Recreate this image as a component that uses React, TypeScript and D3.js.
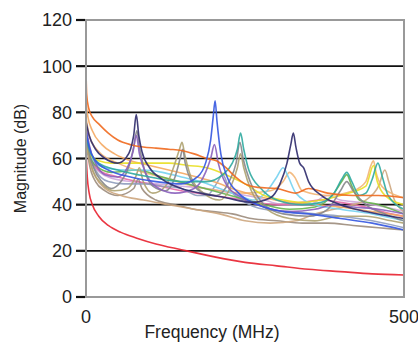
import React from 'react';
import * as d3 from 'd3';

type Pt = [number, number];

const yTicks = [0, 20, 40, 60, 80, 100, 120];
const xTicks = [0, 500];

// frequency (MHz), magnitude (dB)
const redSeries: Pt[] = [[0,63],[2,52],[5,45],[10,40],[20,35],[35,31],[55,28],[80,25.5],[110,23],[150,20.5],[200,17.5],[250,15],[300,13.5],[350,12],[400,11],[450,10],[500,9.5]];
const orangeSeries: Pt[] = [[0,98],[1,88],[4,82],[10,78],[20,75],[35,71],[50,68],[70,66],[90,65],[110,64.5],[130,64],[150,63.5],[170,62],[190,60],[205,59],[220,56],[235,52],[250,49],[270,47.5],[300,47],[330,45],[350,47],[380,45],[420,44],[460,44],[500,43]];
const peachSeries: Pt[] = [[0,84],[3,78],[10,72],[25,66],[45,62],[70,59],[100,57],[130,55],[160,53],[200,50],[240,46],[280,43],[320,41],[360,40],[400,39],[450,37],[500,35]];
const navySeries: Pt[] = [[0,76],[5,70],[15,64],[30,60],[50,58],[62,60],[70,64],[75,70],[79,79],[83,70],[88,63],[100,56],[120,51],[150,47],[180,45],[220,43],[260,41],[290,43],[305,49],[316,58],[322,66],[326,71],[330,65],[336,58],[342,56],[350,50],[370,44],[400,40],[440,37],[500,34]];
const blueSeries: Pt[] = [[0,72],[5,65],[15,59],[35,55],[70,52],[110,50],[150,49],[175,52],[188,58],[196,68],[200,78],[203,85],[206,76],[212,62],[222,52],[240,45],[270,40],[310,37],[350,36],[400,34],[450,32],[500,29]];
const tealSeries: Pt[] = [[0,70],[5,64],[20,58],[50,55],[100,52],[150,50],[190,50],[215,53],[230,58],[238,64],[243,71],[248,64],[256,55],[275,47],[300,42],[340,40],[370,41],[390,45],[402,51],[410,54],[418,50],[430,44],[440,45],[450,51],[459,58],[466,52],[475,44],[500,38]];
const graySeries: Pt[] = [[0,72],[4,64],[12,56],[25,50],[40,47],[55,50],[68,57],[75,65],[80,72],[84,65],[92,55],[105,48],[125,46],[140,52],[148,60],[152,64],[156,58],[166,50],[185,45],[205,44],[225,50],[236,58],[242,67],[247,60],[258,50],[280,40],[310,36],[350,35],[380,38],[400,46],[410,50],[420,46],[440,40],[470,36],[500,33]];
const oliveSeries: Pt[] = [[0,70],[4,62],[12,54],[25,49],[45,46],[65,47],[78,52],[84,56],[90,50],[105,45],[125,48],[140,58],[147,64],[151,67],[155,62],[165,52],[185,45],[210,42],[228,48],[238,56],[243,62],[248,56],[260,46],[285,38],[320,34],[360,33],[400,35],[440,35],[480,33],[500,32]];
const yellowSeries: Pt[] = [[0,68],[5,62],[20,59],[40,58],[70,58],[100,58],[130,58],[160,57],[190,56],[220,53],[250,49],[280,44],[310,42],[340,41],[370,42],[400,44],[440,48],[452,57],[458,50],[470,44],[500,40]];
const cyanSeries: Pt[] = [[0,72],[5,64],[15,58],[30,56],[60,55],[90,55],[120,54],[150,52],[180,50],[210,47],[240,44],[265,42],[285,46],[300,52],[310,56],[318,52],[330,45],[360,40],[400,38],[450,36],[500,33]];
const purpleSeries: Pt[] = [[0,74],[5,66],[15,58],[30,53],[50,52],[65,56],[74,63],[79,70],[84,62],[95,53],[115,47],[140,45],[170,47],[188,54],[196,60],[202,66],[208,58],[220,49],[245,43],[280,39],[320,37],[360,38],[390,40],[420,39],[460,38],[500,36]];
const lavenderSeries: Pt[] = [[0,73],[5,64],[15,56],[35,52],[70,50],[110,49],[150,48],[190,47],[230,45],[270,43],[310,40],[350,40],[380,44],[400,42],[430,41],[470,39],[500,37]];
const tanSeries: Pt[] = [[0,70],[5,60],[15,52],[30,47],[55,44],[90,42],[130,40],[170,38],[210,36],[250,33],[290,32],[330,33],[360,36],[390,38],[420,40],[440,42],[460,48],[470,55],[476,50],[485,42],[500,37]];
const greenSeries: Pt[] = [[0,71],[5,63],[15,57],[40,54],[80,55],[120,52],[160,49],[200,46],[240,43],[280,40],[320,38],[360,39],[390,45],[402,50],[410,53],[418,48],[430,42],[460,40],[500,36]];
const pinkSeries: Pt[] = [[0,70],[5,62],[20,55],[50,52],[100,49],[150,46],[200,44],[250,42],[300,40],[340,41],[370,42],[400,41],[440,39],[480,36],[500,35]];
const lightOrangeSeries: Pt[] = [[0,78],[5,70],[20,63],[50,58],[90,54],[130,51],[170,48],[210,46],[250,45],[290,46],[310,50],[320,54],[328,52],[340,46],[380,44],[420,46],[440,50],[448,57],[452,59],[456,54],[465,48],[480,45],[500,43]];
const brownSeries: Pt[] = [[0,68],[5,58],[15,50],[30,46],[50,44],[75,47],[82,51],[88,47],[110,42],[140,40],[170,38],[200,37],[230,36],[260,34],[300,33],[340,32],[380,32],[420,31],[460,30],[500,29]];
const slateSeries: Pt[] = [[0,70],[5,62],[15,55],[35,50],[60,49],[90,49],[120,48],[150,47],[175,44],[190,44],[205,49],[215,53],[225,47],[245,42],[280,38],[320,37],[360,36],[400,35],[450,33],[500,30]];

const seriesList: Pt[][] = [
  lavenderSeries, pinkSeries, brownSeries, tanSeries, slateSeries, lightOrangeSeries,
  peachSeries, greenSeries, cyanSeries, yellowSeries, oliveSeries, graySeries,
  purpleSeries, tealSeries, orangeSeries, blueSeries, navySeries, redSeries,
];
const seriesColors = [
  '#cfa6dc', '#e46aa6', '#9c8c7c', '#cda67e', '#8e9cbc', '#f2b576',
  '#f4a862', '#66b24c', '#74d2f0', '#e8df22', '#aea270', '#86868a',
  '#8a60bc', '#2faaa0', '#f0691e', '#3457e0', '#2e2a6c', '#e8202e',
];

export default function App() {
  const width = 418;
  const height = 345;
  const margin = { top: 20, right: 14, bottom: 48, left: 86 };
  const x = d3.scaleLinear().domain([0, 500]).range([margin.left, width - margin.right]);
  const y = d3.scaleLinear().domain([0, 120]).range([height - margin.bottom, margin.top]);
  const line = d3.line<Pt>()
    .x(d => x(d[0]))
    .y(d => y(d[1]))
    .curve(d3.curveMonotoneX);
  const font = 'Arial, "Liberation Sans", sans-serif';

  return (
    <svg width={width} height={height} style={{ position: 'absolute', left: 0, top: 0, background: '#fff' }}>
      {/* grid lines */}
      {yTicks.filter(t => t > 0 && t < 120).map(t => (
        <line key={t} x1={x(0)} x2={x(500)} y1={y(t)} y2={y(t)} stroke="#111" strokeWidth={1.6} />
      ))}
      {/* series */}
      <g fill="none" strokeLinejoin="round">
        {seriesList.map((s, i) => (
          <path key={i} d={line(s) || ''} stroke={seriesColors[i]} strokeWidth={1.6} strokeOpacity={0.9} />
        ))}
      </g>
      {/* frame */}
      <rect x={x(0)} y={y(120)} width={x(500) - x(0)} height={y(0) - y(120)} fill="none" stroke="#999" strokeWidth={2} />
      {/* y ticks */}
      {yTicks.map(t => (
        <g key={t}>
          <line x1={x(0) - 10} x2={x(0) - 1} y1={y(t)} y2={y(t)} stroke="#111" strokeWidth={2.2} />
          <text x={x(0) - 14} y={y(t)} dy="0.36em" textAnchor="end" fontFamily={font} fontSize={18} fill="#222">{t}</text>
        </g>
      ))}
      {/* x ticks */}
      {xTicks.map(t => (
        <text key={t} x={x(t)} y={323} textAnchor="middle" fontFamily={font} fontSize={18} fill="#222">{t}</text>
      ))}
      <text x={212} y={338} textAnchor="middle" fontFamily={font} fontSize={17.5} fill="#222">Frequency (MHz)</text>
      <text transform={`translate(26,${(y(0) + y(120)) / 2}) rotate(-90)`} textAnchor="middle" fontFamily={font} fontSize={16} fill="#222">Magnitude (dB)</text>
    </svg>
  );
}
